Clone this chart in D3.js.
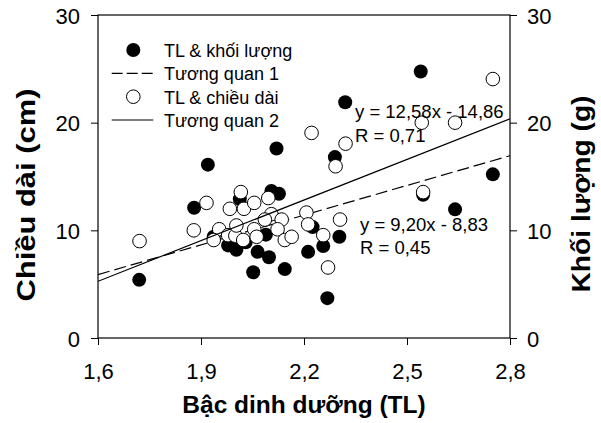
<!DOCTYPE html>
<html><head><meta charset="utf-8">
<script src="https://cdn.jsdelivr.net/npm/d3@7"></script>
<style>
html,body{margin:0;padding:0;background:#fff;}
svg{display:block;}
text{font-family:"Liberation Sans",Arial,sans-serif;fill:#000;}
</style></head>
<body><svg id="c" width="601" height="423"></svg>
<script>
// ---- data ----
const massTL = [1.72,1.92,1.88,2.12,2.105,2.127,2.013,2.29,2.32,2.54,2.75,2.64,2.547,2.303,2.256,2.212,2.225,2.144,2.052,2.268,2.098,2.065,2.089,2.003,1.979,1.937,2.03];
const massVal = [5.4,16.1,12.1,17.6,13.65,13.4,12.9,16.8,21.9,24.75,15.2,11.95,13.3,9.4,8.55,8.0,10.3,6.4,6.1,3.7,7.5,8.0,9.6,8.2,8.6,9.4,8.9];
const lenTL = [1.721,1.879,1.916,1.953,1.937,1.979,2.000,2.023,2.003,2.016,1.984,2.025,2.055,2.096,2.105,2.086,2.135,2.055,2.062,2.123,2.144,2.164,2.207,2.212,2.305,2.256,2.27,2.222,2.321,2.292,2.543,2.64,2.75,2.547];
const lenVal = [9.0,10.0,12.55,10.1,9.1,9.55,9.5,9.1,10.45,13.55,12.0,12.0,12.55,13.0,11.5,11.0,11.0,10.1,9.4,10.1,9.1,9.4,11.65,10.55,11.0,9.55,6.55,19.05,18.05,15.95,20.0,20.0,24.05,13.55];
const fit1 = {slope: 9.20, intercept: -8.83};   // Tương quan 1
const fit2 = {slope: 12.58, intercept: -14.86}; // Tương quan 2
const xTicks = [1.6,1.9,2.2,2.5,2.8];
const xTickLabels = ["1,6","1,9","2,2","2,5","2,8"];
const yTicks = [0,10,20,30];
const yTickLabels = ["0","10","20","30"];
const legendLabels = ["TL & khối lượng","Tương quan 1","TL & chiều dài","Tương quan 2"];
const eq1 = ["y = 9,20x - 8,83","R = 0,45"];
const eq2 = ["y = 12,58x - 14,86","R = 0,71"];

// ---- layout ----
const svg = d3.select("#c");
const L=98, R=510, T=15, B=338;
const x = d3.scaleLinear().domain([1.6,2.8]).range([L,R]);
const y = d3.scaleLinear().domain([0,30]).range([B,T]);
const yR = d3.scaleLinear().domain([0,30]).range([B,T]);

// axes
const gx = svg.append("g").attr("transform",`translate(0,${B})`)
  .call(d3.axisBottom(x).tickValues(xTicks).tickSize(7).tickFormat((d,i)=>xTickLabels[i]));
gx.selectAll("text").attr("y",41).attr("dy",0).style("font-size","22px");
const gl = svg.append("g").attr("transform",`translate(${L},0)`)
  .call(d3.axisLeft(y).tickValues(yTicks).tickSize(7).tickFormat((d,i)=>yTickLabels[i]));
gl.selectAll("text").attr("x",-18).attr("dy",0).attr("y",8).style("font-size","22px");
const gr = svg.append("g").attr("transform",`translate(${R},0)`)
  .call(d3.axisRight(yR).tickValues(yTicks).tickSize(7).tickFormat((d,i)=>yTickLabels[i]));
gr.selectAll("text").attr("x",17).attr("dy",0).attr("y",8).style("font-size","22px");
svg.selectAll(".domain").remove();
svg.selectAll(".tick line").attr("stroke","#000").attr("stroke-width",1);
svg.selectAll(".tick text").attr("fill","#000").style("font-family",'"Liberation Sans",Arial,sans-serif');

// frame
svg.append("rect").attr("x",L).attr("y",T).attr("width",R-L).attr("height",B-T)
  .attr("fill","none").attr("stroke","#000").attr("stroke-width",1.2);

const clip = svg.append("clipPath").attr("id","pc").append("rect")
  .attr("x",L).attr("y",T).attr("width",R-L).attr("height",B-T);
const plot = svg.append("g").attr("clip-path","url(#pc)");

const line = d3.line().x(d=>x(d[0])).y(d=>y(d[1]));
function fitPts(f){ return x.domain().map(v=>[v, f.slope*v+f.intercept]); }

// black points
plot.append("g").selectAll("circle").data(massTL.map((v,i)=>[v,massVal[i]])).join("circle")
  .attr("cx",d=>x(d[0])).attr("cy",d=>yR(d[1])).attr("r",7).attr("fill","#000");
// dashed fit 1
plot.append("path").datum(fitPts(fit1)).attr("d",line).attr("fill","none")
  .attr("stroke","#000").attr("stroke-width",1.2).attr("stroke-dasharray","12,5");
// white points
plot.append("g").selectAll("circle").data(lenTL.map((v,i)=>[v,lenVal[i]])).join("circle")
  .attr("cx",d=>x(d[0])).attr("cy",d=>y(d[1])).attr("r",6.8).attr("fill","#fff")
  .attr("stroke","#000").attr("stroke-width",1);
// solid fit 2
plot.append("path").datum(fitPts(fit2)).attr("d",line).attr("fill","none")
  .attr("stroke","#000").attr("stroke-width",1.2);

// legend
const lg = svg.append("g");
const rowsY = [50,73.3,96.7,120];
lg.append("circle").attr("cx",133.3).attr("cy",rowsY[0]).attr("r",7).attr("fill","#000");
lg.append("line").attr("x1",111.7).attr("x2",153.3).attr("y1",rowsY[1]).attr("y2",rowsY[1])
  .attr("stroke","#000").attr("stroke-width",1.2).attr("stroke-dasharray","11,4");
lg.append("circle").attr("cx",133.3).attr("cy",rowsY[2]).attr("r",6.8).attr("fill","#fff").attr("stroke","#000");
lg.append("line").attr("x1",111.7).attr("x2",153.3).attr("y1",rowsY[3]).attr("y2",rowsY[3])
  .attr("stroke","#000").attr("stroke-width",1.2);
lg.selectAll("text").data(legendLabels).join("text")
  .attr("x",164).attr("y",(d,i)=>rowsY[i]+7).style("font-size","18px").text(d=>d);

// equations
const eqs = [{t:eq2,x:355,y:[117.7,141.7]},{t:eq1,x:360,y:[231,254.3]}];
eqs.forEach(e=>e.t.forEach((s,i)=>svg.append("text").attr("x",e.x).attr("y",e.y[i])
  .style("font-size","18.5px").text(s)));

// axis titles
svg.append("text").attr("x",304).attr("y",413).attr("text-anchor","middle")
  .style("font-size","24.5px").style("font-weight","bold").text("Bậc dinh dưỡng (TL)");
svg.append("text").attr("transform","translate(35,195) rotate(-90)").attr("text-anchor","middle")
  .style("font-size","25px").style("font-weight","bold")
  .attr("textLength",213).attr("lengthAdjust","spacingAndGlyphs").text("Chiều dài (cm)");
svg.append("text").attr("transform","translate(590,194) rotate(-90)").attr("text-anchor","middle")
  .style("font-size","25px").style("font-weight","bold")
  .attr("textLength",197).attr("lengthAdjust","spacingAndGlyphs").text("Khối lượng (g)");
</script></body></html>
